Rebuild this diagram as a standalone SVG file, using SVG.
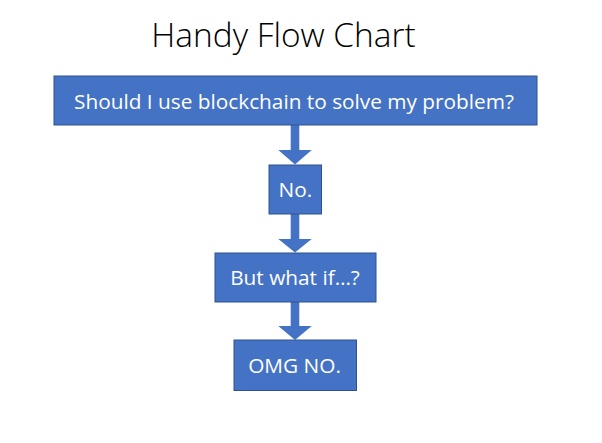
<svg xmlns="http://www.w3.org/2000/svg" width="602" height="443" viewBox="0 0 602 443">
<style>
.box{fill:#4472C4;stroke:#2F528F;stroke-width:1}
.lbl{font-family:"Open Sans","Liberation Sans",sans-serif;font-size:20.8px;fill:#FFFFFF;text-anchor:middle}
.arrow{fill:#4472C4}
.title{font-family:"Open Sans","Liberation Sans",sans-serif;font-weight:300;font-size:33.4px;fill:#000000;text-anchor:middle}
</style>
<rect width="602" height="443" fill="#FFFFFF"/>
<text class="title" x="283.5" y="47">Handy Flow Chart</text>
<g id="connectors">
<polygon class="arrow" points="290.7,125 299.3,125 299.3,150 311.7,150 295,164.5 278.3,150 290.7,150"/>
<polygon class="arrow" points="290.7,214 299.3,214 299.3,239 311.7,239 295,252.5 278.3,239 290.7,239"/>
<polygon class="arrow" points="290.7,302 299.3,302 299.3,326 311.7,326 295,340 278.3,326 290.7,326"/>
</g>
<g id="n1"><rect class="box" x="54" y="76" width="483" height="49"/><text class="lbl" x="294" y="109">Should I use blockchain to solve my problem?</text></g>
<g id="n2"><rect class="box" x="269" y="165" width="52.5" height="49"/><text class="lbl" x="295.3" y="197">No.</text></g>
<g id="n3"><rect class="box" x="215" y="253" width="161" height="49"/><text class="lbl" x="295" y="285">But what if…?</text></g>
<g id="n4"><rect class="box" x="234" y="340" width="122.5" height="50.5"/><text class="lbl" x="294.5" y="373">OMG NO.</text></g>
</svg>
